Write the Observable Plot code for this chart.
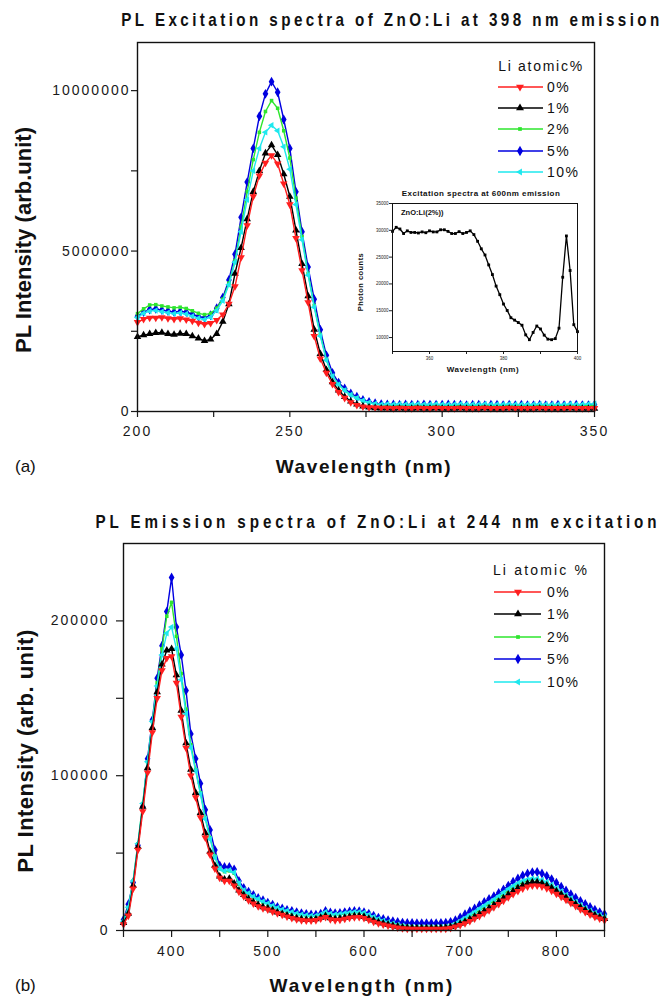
<!DOCTYPE html>
<html><head><meta charset="utf-8">
<script src="https://cdn.jsdelivr.net/npm/d3@7"></script>
<script src="https://cdn.jsdelivr.net/npm/@observablehq/plot@0.6"></script>
<style>
html,body{margin:0;padding:0;background:#fff;}
#root{position:relative;width:670px;height:999px;overflow:hidden;background:#fff;}
.wrap{position:absolute;left:0;}
.main svg text{letter-spacing:2px;}
</style></head>
<body><div id="root"></div>
<script>
// ---------- data ----------
const seriesLabels = ["0%", "1%", "2%", "5%", "10%"];

// Panel (a): excitation spectra, wavelength (nm) and intensity in units of 1e6
const wlA = [200,202,204,206,208,210,212,214,216,218,220,222,224,226,228,230,232,234,236,238,240,242,244,246,248,250,252,254,256,258,260,262,264,266,268,270,272,274,276,278,280,282,284,286,288,290,292,294,296,298,300,302,304,306,308,310,312,314,316,318,320,322,324,326,328,330,332,334,336,338,340,342,344,346,348,350];
const excA0 = [2.78,2.88,2.92,2.92,2.93,2.90,2.88,2.90,2.86,2.82,2.76,2.72,2.75,2.85,3.02,3.35,3.90,4.80,5.80,6.70,7.35,7.75,7.98,7.72,7.10,6.45,5.40,4.40,3.40,2.35,1.65,1.20,0.85,0.60,0.42,0.28,0.20,0.15,0.13,0.12,0.11,
  0.11,0.10,0.11,0.10,0.10,0.11,0.10,0.10,0.11,0.10,0.10,0.10,0.11,0.10,0.10,0.10,0.11,0.10,0.10,0.10,0.11,0.10,0.10,0.10,0.10,0.11,0.10,0.10,0.10,0.10,0.11,0.10,0.10,0.10,0.10];
const excA1 = [2.33,2.38,2.42,2.45,2.46,2.42,2.40,2.43,2.42,2.35,2.28,2.20,2.25,2.42,2.80,3.35,4.30,5.10,6.00,6.85,7.50,8.05,8.30,8.00,7.40,6.70,5.65,4.60,3.60,2.55,1.80,1.30,0.92,0.66,0.46,0.32,0.22,0.16,0.13,0.11,0.10,
  0.10,0.09,0.10,0.09,0.09,0.10,0.09,0.09,0.10,0.09,0.09,0.09,0.10,0.09,0.09,0.09,0.10,0.09,0.09,0.09,0.10,0.09,0.09,0.09,0.09,0.10,0.09,0.09,0.09,0.09,0.10,0.09,0.09,0.09,0.09];
const excA2 = [3.05,3.20,3.32,3.33,3.29,3.26,3.23,3.25,3.21,3.14,3.06,3.02,3.06,3.22,3.50,4.00,4.70,5.75,6.85,7.85,8.70,9.35,9.69,9.45,8.75,7.90,6.65,5.45,4.30,3.30,2.40,1.62,1.10,0.84,0.66,0.52,0.42,0.33,0.27,0.23,0.21,
  0.20,0.21,0.20,0.20,0.21,0.20,0.20,0.20,0.21,0.20,0.20,0.19,0.20,0.20,0.19,0.20,0.20,0.19,0.20,0.19,0.20,0.19,0.19,0.20,0.19,0.19,0.20,0.19,0.19,0.19,0.20,0.19,0.19,0.19,0.19];
const excA5 = [2.97,3.10,3.18,3.20,3.16,3.13,3.10,3.12,3.10,3.03,2.96,2.92,3.00,3.22,3.55,4.10,4.90,6.05,7.15,8.20,9.20,9.90,10.28,9.95,9.10,8.20,6.85,5.60,4.50,3.50,2.55,1.75,1.20,0.90,0.72,0.56,0.46,0.36,0.30,0.26,0.23,
  0.22,0.22,0.21,0.22,0.21,0.21,0.22,0.21,0.21,0.21,0.22,0.21,0.21,0.20,0.21,0.21,0.20,0.21,0.21,0.20,0.21,0.20,0.21,0.20,0.20,0.21,0.20,0.20,0.21,0.20,0.20,0.21,0.20,0.20,0.21];
const excA10 = [2.93,3.06,3.13,3.15,3.11,3.08,3.05,3.07,3.04,2.97,2.91,2.87,2.94,3.15,3.45,3.95,4.65,5.60,6.60,7.50,8.20,8.70,8.92,8.75,8.25,7.55,6.45,5.35,4.25,3.25,2.35,1.60,1.10,0.84,0.66,0.52,0.42,0.34,0.28,0.24,0.22,
  0.23,0.22,0.23,0.22,0.22,0.23,0.22,0.22,0.23,0.22,0.22,0.22,0.23,0.22,0.22,0.22,0.23,0.22,0.22,0.22,0.23,0.22,0.22,0.22,0.22,0.23,0.22,0.22,0.22,0.22,0.23,0.22,0.22,0.23,0.24];

// Panel (b): emission spectra, wavelength (nm) and intensity in units of 1e3
const wlB = [350,355,360,365,370,375,380,385,390,395,400,405,410,415,420,425,430,435,440,445,450,455,460,465,470,475,480,485,490,495,500,505,510,515,520,525,530,535,540,545,550,555,560,565,570,575,580,585,590,595,600,605,610,615,620,625,630,635,640,645,650,655,660,665,670,675,680,685,690,695,700,705,710,715,720,725,730,735,740,745,750,755,760,765,770,775,780,785,790,795,800,805,810,815,820,825,830,835,840,845,850];
const emB0 = [4,9.5,27,52,77,102,128,150,168,176, 177,160,138,118,100,86,73,60,49,40, 34,32,32,29,25,22,19.5,17.3,15.6,14.2, 13.5,12.2,11,10,9,8,7.2,6.6,6.3,6.3,
  6.6,7.6,8.6,7.2,6.6,6.9,7.5,8.1,8.5,8.6, 8.0,6.8,5.6,4.6,3.8,3.1,2.4,1.8,1.3,1.1, 1.0,1.0,1.0,1.0,1.0,1.0,1.0,1.1,1.6,2.5, 3.5,4.6,6.0,7.6,9.2,11,13,15,17,19.2,
  21.4,23.5,25.4,27,28.3,29,29,28.4,27.2,25.6, 23.7,21.7,19.7,17.7,15.7,13.7,11.9,10.3,8.8,7.6, 6.5];
const emB1 = [5,11,29,54,80,105,131,154,172,181, 182,165,142,121,104,89,76,63,51,42, 35,33,33.5,30.5,26,23,20.5,18.3,16.6,15.2, 14.4,13.1,11.8,10.8,9.8,8.9,8.0,7.4,7.1,7.1,
  7.4,8.4,9.5,8.1,7.5,7.8,8.4,9.0,9.4,9.5, 8.9,7.7,6.5,5.4,4.6,3.9,3.2,2.6,2.1,1.8, 1.7,1.6,1.6,1.6,1.6,1.6,1.7,1.9,2.4,3.3, 4.5,5.8,7.3,9.0,10.6,12.5,14.5,16.5,18.7,21.0,
  23.3,25.5,27.5,29.2,30.5,31.2,31.2,30.5,29.2,27.5, 25.5,23.3,21.2,19.0,17.0,15.0,13.2,11.5,10.0,8.6, 7.5];
const emB2 = [6,15,32,56,82,109,135,160,182,203, 212,190,166,143,120,104,89,73,60,48, 40,38,38.5,37,30,25.5,23.5,21.5,19.8,18.3, 17,15.6,14.2,13.2,12.3,11.5,10.6,10,9.5,9.2,
  9.1,9.9,11.5,10.5,10,10.2,10.8,11.2,11.6,11.6, 11,9.8,8.4,7.1,6.1,5.2,4.4,3.7,3.1,2.7, 2.4,2.3,2.3,2.3,2.3,2.3,2.4,2.6,3.2,4.3, 5.8,7.5,9.3,11,13,15,17,19,21.2,23.5,
  25.8,27.8,29.6,31.2,32.3,33,33,32.2,30.8,29, 27,24.8,22.6,20.4,18.3,16.2,14.3,12.5,11,9.6, 8.5];
const emB5 = [7,17,31,55,80,111,136,163,184,206, 228,196,178,155,127,111,95,78,65,52, 42,41,41,39.5,32,27.5,25,23,21,19.5, 18,16.6,15.2,14.2,13.3,12.6,11.8,11.2,10.7,10.3,
  10.2,10.9,12.6,11.6,11.1,11.3,11.9,12.3,12.6,12.5, 11.8,10.8,9.6,8.3,7.4,6.6,6.0,5.5,5.1,4.9, 4.8,4.7,4.7,4.7,4.7,4.7,4.8,5.0,5.6,6.6, 8.5,10.5,12.4,14.2,16.3,18.4,20.4,22.2,24.2,26.5,
  29.0,31.5,33.6,35.5,36.9,37.7,37.8,36.8,35.2,33.2, 30.8,28.3,25.8,23.4,21.2,19.1,17.1,15.2,13.4,11.9, 10.6];
const emB10 = [6,15,32,56,82,109,135,158,178,192, 196,182,162,140,118,103,88,72,59,47, 40,38.5,39,37.5,30.5,26,24,22,20.3,18.8, 17.4,16,14.6,13.6,12.7,11.9,11,10.4,9.9,9.6,
  9.5,10.3,11.9,10.9,10.4,10.6,11.2,11.6,12,12, 11.4,10.2,8.8,7.4,6.3,5.4,4.5,3.7,3,2.5, 2.2,2.1,2.1,2.1,2.1,2.1,2.2,2.4,3.1,4.4, 6.1,8,10,12,14,16,18,20,22.2,24.5,
  26.8,28.8,30.6,32,33,33.6,33.5,32.7,31.3,29.5, 27.5,25.3,23,20.8,18.6,16.5,14.6,12.8,11.3,10, 9];

// Inset: excitation spectrum at 600 nm emission, ZnO:Li(2%)
const wlInset = [350,351,352,353,354,355,356,357,358,359,360,361,362,363,364,365,366,367,368,369,370,371,372,373,374,375,376,377,378,379,380,381,382,383,384,385,386,387,388,389,390,391,392,393,394,395,396,397,398,399,400];
const countsInset = [29800,30560,30250,29400,29900,29600,29600,29500,29700,29550,
  29900,29700,29700,30100,30100,29800,29400,29400,29750,29400,
  29600,29900,29200,27950,26550,25400,23550,21750,19600,18000,
  16250,15050,13700,13250,12800,12300,10500,9600,10950,12150,
  11600,10450,9700,9600,9800,11750,21250,28950,22500,12400,
  11100];

// tick values
const xTicksA = [200, 250, 300, 350], xMinorA = [225, 275, 325];
const yTicksA = [0, 5000000, 10000000], yMinorA = [2500000, 7500000];
const xTicksB = [400, 500, 600, 700, 800], xMinorB = [350, 450, 550, 650, 750, 850];
const yTicksB = [0, 100000, 200000], yMinorB = [50000, 150000];
const xTicksIn = [360, 380, 400], xMinorIn = [350, 370, 390];
const yTicksIn = [10000, 15000, 20000, 25000, 30000, 35000];

// ---------- styles ----------
const FONT = '"Liberation Sans", Arial, Helvetica, sans-serif';
const seriesColors = ["#ff1f1f", "#000000", "#2ee62e", "#0000e0", "#1ee8ee"];
const sqrt3 = Math.sqrt(3);
const triDown = {draw(ctx, size) { const y = -Math.sqrt(size / (sqrt3 * 3)); ctx.moveTo(0, -y * 2); ctx.lineTo(-sqrt3 * y, y); ctx.lineTo(sqrt3 * y, y); ctx.closePath(); }};
const triLeft = {draw(ctx, size) { const y = -Math.sqrt(size / (sqrt3 * 3)); ctx.moveTo(y * 2, 0); ctx.lineTo(-y, -sqrt3 * y); ctx.lineTo(-y, sqrt3 * y); ctx.closePath(); }};
const seriesSymbols = [triDown, d3.symbolTriangle, d3.symbolSquare, d3.symbolDiamond, triLeft];
const markerR = [2.8, 2.8, 2.0, 3.0, 2.4];
const drawOrder = [3, 2, 4, 1, 0];

const root = document.getElementById("root");

function rows(xs, ys, k) { return xs.map((x, i) => ({x, y: ys[i] * k})); }
function seriesMarks(xs, list, k, rs) {
  const marks = [];
  for (const i of drawOrder) {
    const d = rows(xs, list[i], k);
    marks.push(Plot.line(d, {x: "x", y: "y", stroke: seriesColors[i], strokeWidth: 1.4}));
    marks.push(Plot.dot(d, {x: "x", y: "y", symbol: seriesSymbols[i], fill: seriesColors[i], stroke: "none", r: markerR[i] * rs}));
  }
  return marks;
}
function axisMarks(xt, xm, yt, ym, o) {
  const c = "#1a1a1a";
  return [
    Plot.axisX(xt, {tickSize: o.ts, tickPadding: o.xpad, fontSize: o.fs, tickFormat: d => String(d), label: null, color: c, strokeWidth: 1.2}),
    Plot.axisX(xm, {tickSize: o.ts, tickFormat: () => "", label: null, color: c, strokeWidth: 1.2}),
    Plot.axisY(yt, {tickSize: o.ts, tickPadding: o.ypad, fontSize: o.fs, tickFormat: d => String(d), label: null, color: c, strokeWidth: 1.2}),
    Plot.axisY(ym, {tickSize: o.ts, tickFormat: () => "", label: null, color: c, strokeWidth: 1.2}),
    Plot.frame({stroke: "#111", strokeWidth: 1.4})
  ];
}
function place(node, left, top, cls) {
  const w = document.createElement("div");
  w.className = "wrap " + (cls || "");
  w.style.left = left + "px"; w.style.top = top + "px";
  w.appendChild(node); root.appendChild(w);
}
function txt(str, o) {
  const el = document.createElement("div");
  el.textContent = str;
  const s = el.style;
  s.position = "absolute"; s.whiteSpace = "nowrap"; s.lineHeight = "1";
  s.left = o.x + "px"; s.top = o.y + "px";
  s.fontSize = o.size + "px"; s.fontFamily = o.font || FONT;
  s.fontWeight = o.bold ? "bold" : "normal";
  s.color = o.color || "#111";
  if (o.ls != null) s.letterSpacing = o.ls + "px";
  root.appendChild(el);
  const sx = o.sx || 1;
  if (o.w) {
    const w0 = el.getBoundingClientRect().width;
    s.letterSpacing = ((o.w / sx - w0) / Math.max(1, str.length - 1)) + "px";
  }
  const tx = o.anchor === "start" ? "0" : o.anchor === "end" ? "-100%" : "-50%";
  s.transform = `translate(${tx},-50%)` + (o.rot ? ` rotate(${o.rot}deg)` : "") + (sx !== 1 ? ` scaleX(${sx})` : "");
  return el;
}

// ---------- panel (a) ----------
const plotA = Plot.plot({
  width: 670, height: 490,
  marginLeft: 137, marginRight: 76, marginTop: 42, marginBottom: 79,
  style: {fontFamily: FONT, background: "transparent"},
  x: {domain: [200, 350]},
  y: {domain: [0, 11500000]},
  marks: [
    ...seriesMarks(wlA, [excA0, excA1, excA2, excA5, excA10], 1e6, 1),
    ...axisMarks(xTicksA, xMinorA, yTicksA, yMinorA, {ts: 6, xpad: 9, ypad: 1, fs: 14})
  ]
});
place(plotA, 0, 0, "main");

// ---------- panel (b) ----------
const plotB = Plot.plot({
  width: 670, height: 499,
  marginLeft: 123, marginRight: 66, marginTop: 43, marginBottom: 69,
  style: {fontFamily: FONT, background: "transparent"},
  x: {domain: [350, 850]},
  y: {domain: [0, 250000]},
  marks: [
    ...seriesMarks(wlB, [emB0, emB1, emB2, emB5, emB10], 1e3, 1.0),
    ...axisMarks(xTicksB, xMinorB, yTicksB, yMinorB, {ts: 7, xpad: 9, ypad: 7, fs: 14})
  ]
});
place(plotB, 0, 500, "main");

// ---------- inset ----------
const insetRows = wlInset.map((x, i) => ({x, y: countsInset[i]}));
const plotIn = Plot.plot({
  width: 250, height: 200,
  marginLeft: 52, marginRight: 13, marginTop: 23, marginBottom: 29,
  style: {fontFamily: FONT, background: "transparent"},
  x: {domain: [350, 400]},
  y: {domain: [7400, 35000]},
  marks: [
    Plot.line(insetRows, {x: "x", y: "y", stroke: "#000", strokeWidth: 1.3}),
    Plot.dot(insetRows, {x: "x", y: "y", symbol: "square", fill: "#000", stroke: "none", r: 1.6}),
    Plot.axisX(xTicksIn, {tickSize: 3, tickPadding: 2, fontSize: 4.5, tickFormat: d => String(d), label: null, color: "#222"}),
    Plot.axisX(xMinorIn, {tickSize: 3, tickFormat: () => "", label: null, color: "#222"}),
    Plot.axisY(yTicksIn, {tickSize: 3, tickPadding: 1, fontSize: 4.5, tickFormat: d => String(d), label: null, color: "#222"}),
    Plot.frame({stroke: "#111", strokeWidth: 1})
  ]
});
place(plotIn, 340, 180, "inset");

// ---------- texts ----------
txt("PL Excitation spectra of ZnO:Li at 398 nm emission", {x: 392, y: 19, size: 19, bold: true, sx: 0.8, w: 538});
txt("PL Emission spectra of ZnO:Li at 244 nm excitation", {x: 378, y: 521, size: 19, bold: true, sx: 0.8, w: 561});
txt("PL Intensity (arb.unit)", {x: 24, y: 240, size: 22, bold: true, rot: -90, w: 226});
txt("PL Intensity (arb. unit)", {x: 26, y: 751, size: 22, bold: true, rot: -90, w: 243});
txt("Wavelength (nm)", {x: 364, y: 466, size: 19, bold: true, w: 175});
txt("Wavelength (nm)", {x: 362, y: 985, size: 19, bold: true, w: 183});
txt("(a)", {x: 15, y: 466, size: 17, anchor: "start"});
txt("(b)", {x: 15, y: 985, size: 17, anchor: "start"});

// inset texts
txt("Excitation spectra at 600nm emission", {x: 481, y: 194, size: 8, bold: true, w: 158});
txt("ZnO:Li(2%))", {x: 401, y: 213, size: 7.5, bold: true, anchor: "start"});
txt("Photon counts", {x: 361, y: 282, size: 7.5, bold: true, rot: -90, w: 58});
txt("Wavelength (nm)", {x: 483, y: 370, size: 8, bold: true, w: 72});

// ---------- legends ----------
function addLegend(o) {
  txt(o.title, {x: o.titleCx, y: o.titleCy, size: 14, w: o.titleW});
  const svg = d3.select(root).append("svg")
    .attr("width", 670).attr("height", 999)
    .style("position", "absolute").style("left", "0px").style("top", "0px");
  seriesLabels.forEach((lab, i) => {
    const y = o.rowY[i];
    svg.append("line").attr("x1", o.x1).attr("x2", o.x2).attr("y1", y).attr("y2", y)
      .attr("stroke", seriesColors[i]).attr("stroke-width", 1.3);
    svg.append("path").attr("transform", `translate(${o.mx},${y})`)
      .attr("d", d3.symbol(seriesSymbols[i], Math.PI * markerR[i] * markerR[i] * 1.1)())
      .attr("fill", seriesColors[i]);
    txt(lab, {x: o.tx, y: y, size: 14, anchor: "start", ls: 1.5});
  });
}
addLegend({title: "Li atomic%", titleCx: 541, titleCy: 66, titleW: 84,
  rowY: [87, 108, 129, 151, 172], x1: 498, x2: 543, mx: 520, tx: 547});
addLegend({title: "Li atomic %", titleCx: 541, titleCy: 570, titleW: 94,
  rowY: [592, 614, 637, 659, 682], x1: 494, x2: 541, mx: 518, tx: 547});
</script>
</body></html>
